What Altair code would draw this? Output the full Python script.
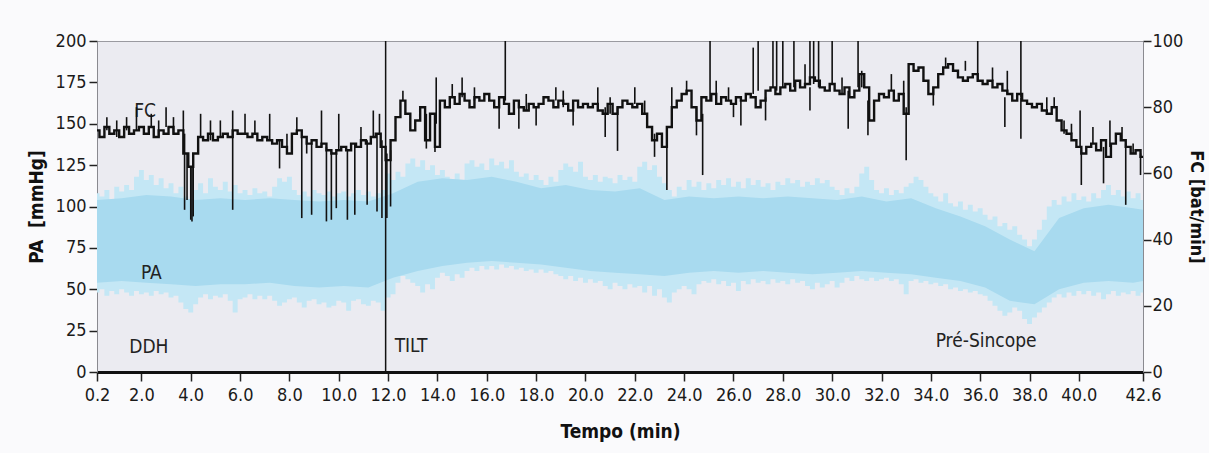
import altair as alt
import pandas as pd

FONT = "DejaVu Sans Condensed, DejaVu Sans, sans-serif"

# ---------------- data ----------------
t_ticks = [0.2, 2, 4, 6, 8, 10, 12, 14, 16, 18, 20, 22, 24, 26, 28, 30, 32, 34, 36, 38, 40, 42.6]
pa_ticks = [0, 25, 50, 75, 100, 125, 150, 175, 200]
fc_ticks = [0, 20, 40, 60, 80, 100]

# sample times, every 0.2 min from 0.2 to 42.6
times = [round(0.2 + 0.2 * i, 1) for i in range(213)]

# heart rate FC (bat/min)
fc = [73, 71, 74, 72, 73, 71, 74, 72, 73, 74,
      72, 74, 71, 73, 72, 74, 72, 73, 66, 62,
      66, 71, 70, 72, 70, 71, 72, 71, 73, 72,
      72, 71, 72, 70, 71, 70, 69, 70, 68, 66,
      72, 73, 71, 69, 70, 68, 69, 67, 66, 67,
      68, 67, 69, 68, 70, 69, 71, 72, 68, 64,
      70, 77, 82, 78, 73, 76, 80, 70, 78, 68,
      82, 80, 83, 81, 84, 82, 80, 83, 82, 84,
      82, 80, 83, 81, 78, 82, 80, 79, 81, 80,
      81, 83, 82, 80, 82, 81, 79, 82, 80, 81,
      80, 81, 79, 78, 81, 78, 80, 82, 81, 80,
      81, 78, 74, 70, 72, 68, 74, 80, 82, 84,
      85, 80, 76, 83, 82, 84, 81, 83, 82, 81,
      83, 82, 84, 83, 80, 82, 85, 86, 84, 86,
      87, 85, 88, 86, 87, 89, 88, 86, 85, 87,
      85, 84, 86, 83, 85, 90, 86, 76, 82, 84,
      83, 85, 82, 84, 78, 93, 91, 92, 88, 84,
      86, 90, 92, 93, 91, 89, 88, 89, 90, 88,
      87, 88, 86, 87, 85, 84, 82, 84, 82, 81,
      80, 81, 79, 78, 80, 76, 73, 72, 70, 68,
      66, 68, 69, 67, 70, 65, 69, 72, 70, 68,
      66, 67, 65]

# FC spikes: time, level of the trace, tip of the spike (bat/min)
spike_t = [1.8, 3.0, 3.7, 4.4, 5.7, 6.2, 7.2, 9.3, 10.0, 11.4, 11.65,
           12.6, 13.95, 15.0, 16.75, 20.5, 22.0, 23.5, 24.1,
           25.05, 25.3, 26.8, 27.0, 27.6, 27.75, 28.0, 28.45, 28.9, 29.1, 29.25, 29.45,
           30.0, 31.05, 31.2, 35.9, 37.1, 37.65, 39.0, 40.05, 40.57, 41.26, 41.75,
           3.75, 3.85, 4.0, 4.05, 4.1, 5.7, 7.6, 8.5, 8.9, 9.5, 9.7, 9.9, 10.35, 10.65,
           11.15, 11.55, 11.75, 11.95, 12.1, 13.55, 13.9, 16.5, 17.3, 18.0, 19.5,
           20.8, 21.3, 22.8, 23.3, 24.5, 24.75, 26.3, 27.3, 29.1, 30.65, 31.45,
           33.0, 34.1, 37.0, 37.65, 40.1, 41.0, 41.9, 42.5,
           0.6, 1.0, 1.4, 2.4, 2.7, 3.3, 4.8, 5.2, 6.6, 7.9, 8.3, 8.7, 10.9,
           14.6, 15.5, 17.6, 18.8, 19.1, 21.0, 22.4, 25.8, 26.0, 30.4, 32.4,
           32.9, 34.6, 35.4, 36.5, 38.7, 39.4, 39.7, 42.2]
spike_base = [73, 74, 73, 71, 72, 72, 70, 68, 67, 71, 72,
              82, 75, 83, 82, 80, 81, 80, 84,
              82, 83, 84, 85, 86, 85, 86, 86, 87, 88, 87, 86,
              87, 86, 86, 88, 84, 83, 80, 68, 69, 68, 70,
              72, 66, 62, 62, 63, 72, 70, 71, 69, 68, 67, 66, 67, 69,
              70, 72, 70, 66, 67, 78, 76, 80, 80, 80, 80,
              80, 80, 72, 74, 80, 78, 82, 83, 86, 85, 82,
              80, 86, 83, 83, 67, 68, 69, 66,
              73, 71, 73, 74, 71, 72, 70, 71, 72, 68, 73, 70, 69,
              83, 82, 79, 82, 80, 78, 78, 82, 81, 84, 85,
              84, 92, 91, 88, 79, 76, 72, 66]
spike_tip = [80, 80, 79, 78, 79, 78, 78, 79, 78, 79, 78,
             85, 89, 89, 100, 86, 86, 86, 88,
             100, 88, 98, 100, 100, 100, 100, 100, 93, 100, 100, 100,
             100, 100, 91, 100, 91, 100, 83, 79, 74, 76, 74,
             49, 52, 46, 45.5, 47, 49, 61.5, 46.5, 47.5, 45.5, 46, 49.5, 46, 47.5,
             50.5, 48.5, 46.5, 46.5, 50, 67.5, 66.5, 73.5, 73.5, 74.5, 74.5,
             71, 66.8, 65, 55, 71.5, 59.5, 74.5, 76, 79, 73.5, 71.5,
             64, 80.5, 74, 70.5, 56.5, 57, 50.5, 59.5,
             77, 76, 77, 78, 76, 77, 76, 76, 76, 72, 77, 66, 74,
             87, 86, 84, 86, 85, 83, 82, 86, 77, 89, 90,
             88, 95, 94, 92, 83, 72, 75, 69]

# blood pressure PA (mmHg): outer envelope, every 0.2 min
pa_hi = [108, 106, 110, 104, 112, 109, 113, 110, 118, 122,
         116, 119, 113, 117, 111, 114, 108, 112, 106, 100,
         110, 114, 108, 117, 112, 110, 115, 109, 113, 108,
         110, 107, 111, 108, 109, 106, 112, 117, 115, 118,
         110, 107, 109, 106, 110, 108, 107, 109, 106, 108,
         109, 106, 108, 110, 107, 109, 106, 108, 110, 120,
         116, 121, 118, 126, 129, 124, 128, 122, 125, 119,
         122, 118, 116, 120, 114, 126, 128, 124, 126, 122,
         129, 125, 127, 123, 128, 121, 118, 120, 116, 119,
         116, 113, 118, 115, 122, 126, 124, 121, 127, 118,
         116, 119, 115, 118, 117, 114, 119, 116, 118, 115,
         124, 127, 122, 125, 118, 114, 110, 106, 112, 110,
         116, 112, 115, 110, 114, 111, 116, 113, 117, 112,
         115, 111, 117, 113, 116, 112, 114, 110, 115, 113,
         117, 114, 116, 112, 115, 113, 117, 114, 116, 112,
         110, 107, 111, 108, 112, 120, 124, 116, 110, 108,
         111, 107, 110, 108, 112, 114, 118, 116, 112, 108,
         106, 103, 108, 102, 100, 103, 98, 101, 97, 99,
         95, 92, 94, 88, 90, 86, 88, 83, 80, 76,
         80, 86, 92, 100, 104, 101, 106, 103, 108, 104,
         106, 103, 108, 105, 110, 113, 107, 110, 106, 109,
         105, 108, 104]
pa_lo = [48, 50, 46, 49, 47, 50, 48, 46, 49, 47,
         48, 46, 49, 47, 48, 45, 46, 42, 38, 36,
         41, 45, 47, 44, 46, 45, 47, 43, 36, 44,
         45, 47, 44, 46, 44, 46, 43, 40, 42, 44,
         45, 42, 39, 43, 44, 41, 42, 39, 40, 43,
         42, 37, 43, 44, 41, 40, 43, 42, 37, 45,
         47, 54, 58, 56, 54, 52, 48, 53, 50, 57,
         60, 58, 55, 59, 57, 61, 63, 61, 64, 62,
         64, 62, 65, 63, 64, 62, 63, 61, 62, 60,
         62, 60, 61, 59, 58, 56, 58, 55, 57, 54,
         56, 54, 55, 52, 50, 54, 52, 50, 53, 51,
         52, 48, 52, 46, 50, 45, 42, 48, 50, 52,
         50, 47, 53, 55, 54, 56, 53, 55, 52, 54,
         49, 55, 53, 56, 54, 55, 53, 56, 54, 55,
         53, 56, 54, 55, 52, 50, 54, 51, 53, 55,
         51, 54, 57, 55, 58, 56, 55, 57, 55, 56,
         57, 55, 56, 53, 47, 55, 56, 54, 55, 53,
         54, 52, 53, 50, 51, 49, 50, 48, 49, 47,
         46, 43, 40, 37, 34, 36, 39, 37, 32, 29,
         33, 36, 39, 42, 45, 47, 45, 48, 46, 49,
         47, 49, 46, 48, 44, 47, 49, 46, 48, 47,
         49, 46, 48]

# PA dense core, every minute
core_t = [round(0.2 + k, 1) for k in range(43)] + [42.6]
core_hi = [104, 105, 107, 106, 104, 105, 104, 105, 104, 103, 104, 103,
           108, 115, 117, 116, 118, 115, 111, 113, 110, 109, 111, 104,
           106, 105, 106, 105, 106, 105, 104, 106, 103, 105, 99, 94,
           88, 80, 73, 93, 99, 101, 99,
           98]
core_lo = [54, 55, 54, 53, 52, 53, 53, 54, 52, 51, 52, 51,
           57, 61, 64, 66, 67, 66, 65, 63, 61, 60, 59, 58,
           60, 61, 60, 61, 60, 59, 60, 61, 60, 59, 57, 55,
           51, 43, 41, 50, 54, 55, 54,
           55]

tilt_t = [11.9]

ann_text = ["FC", "PA", "DDH", "TILT", "Pré-Sincope"]
ann_t = [2.15, 2.4, 2.3, 12.93, 36.24]
ann_pa = [158, 60, 15, 15.5, 19]

# ---------------- tables ----------------
df_pa = pd.DataFrame({"t": times, "hi": pa_hi, "lo": pa_lo})
df_core = pd.DataFrame({"t": core_t, "hi": core_hi, "lo": core_lo})
df_fc = pd.DataFrame({"t": times, "fc": fc})
df_sp = pd.DataFrame({"t": spike_t, "base": spike_base, "tip": spike_tip})
df_tilt = pd.DataFrame({"t": tilt_t})
df_ann = pd.DataFrame({"t": ann_t, "pa": ann_pa, "label": ann_text})

# ---------------- scales & axes ----------------
x_scale = alt.Scale(domain=[0.2, 42.6], nice=False, zero=False)
x_axis = alt.Axis(values=t_ticks, format=".1f", title="Tempo (min)",
                  labelFont=FONT, labelFontSize=18, labelColor="#1a1a1a",
                  tickSize=9, tickColor="#222", tickWidth=1.5,
                  domainColor="#111", domainWidth=3, grid=False,
                  labelPadding=5, labelFlush=False,
                  titleFont=FONT, titleFontSize=19, titleFontWeight="bold",
                  titleColor="#111", titlePadding=18)
pa_scale = alt.Scale(domain=[0, 200], nice=False, zero=False)
pa_axis = alt.Axis(values=pa_ticks, orient="left", title="PA\u00a0\u00a0[mmHg]",
                   labelFont=FONT, labelFontSize=18, labelColor="#1a1a1a",
                   tickSize=8, tickColor="#222", tickWidth=1.5,
                   domainColor="#8a8a90", domainWidth=1, grid=False,
                   labelPadding=3,
                   titleFont=FONT, titleFontSize=19, titleFontWeight="bold",
                   titleColor="#111", titlePadding=9)
fc_scale = alt.Scale(domain=[0, 100], nice=False, zero=False)
fc_axis = alt.Axis(values=fc_ticks, orient="right", title="FC [bat/min]",
                   labelFont=FONT, labelFontSize=18, labelColor="#1a1a1a",
                   tickSize=8, tickColor="#222", tickWidth=1.5,
                   domainColor="#8a8a90", domainWidth=1, grid=False,
                   labelPadding=1, titleAngle=90,
                   titleFont=FONT, titleFontSize=18, titleFontWeight="bold",
                   titleColor="#111", titlePadding=4)

X = alt.X("t:Q", scale=x_scale, axis=x_axis)

outer = alt.Chart(df_pa).mark_area(color="#c4e7f5", interpolate="step").encode(
    x=X, y=alt.Y("hi:Q", scale=pa_scale, axis=pa_axis), y2="lo:Q")
core = alt.Chart(df_core).mark_area(color="#a8daef").encode(
    x=X, y=alt.Y("hi:Q", scale=pa_scale, axis=pa_axis), y2="lo:Q")
tilt = alt.Chart(df_tilt).mark_rule(color="#111", strokeWidth=1.5).encode(x=X)
ann = alt.Chart(df_ann).mark_text(font=FONT, fontSize=19, color="#222",
                                  baseline="middle", align="center").encode(
    x=X, y=alt.Y("pa:Q", scale=pa_scale, axis=pa_axis), text="label:N")
pa_group = alt.layer(outer, core, tilt, ann)

fc_line = alt.Chart(df_fc).mark_line(color="#111", strokeWidth=2.4,
                                     interpolate="step").encode(
    x=X, y=alt.Y("fc:Q", scale=fc_scale, axis=fc_axis))
spikes = alt.Chart(df_sp).mark_rule(color="#111", strokeWidth=1.6).encode(
    x=X, y=alt.Y("base:Q", scale=fc_scale, axis=fc_axis), y2="tip:Q")
fc_group = alt.layer(fc_line, spikes)

chart = alt.layer(pa_group, fc_group).resolve_scale(y="independent").properties(
    width=1046, height=331,
    autosize=alt.AutoSizeParams(type="none"),
    padding={"left": 97, "top": 41, "right": 66, "bottom": 81},
    background="#fafafc",
).configure_view(fill="#ebebf1", stroke="#9a9aa0", strokeWidth=1)

chart.save("out.html", embed_options={"renderer": "svg", "actions": False})
